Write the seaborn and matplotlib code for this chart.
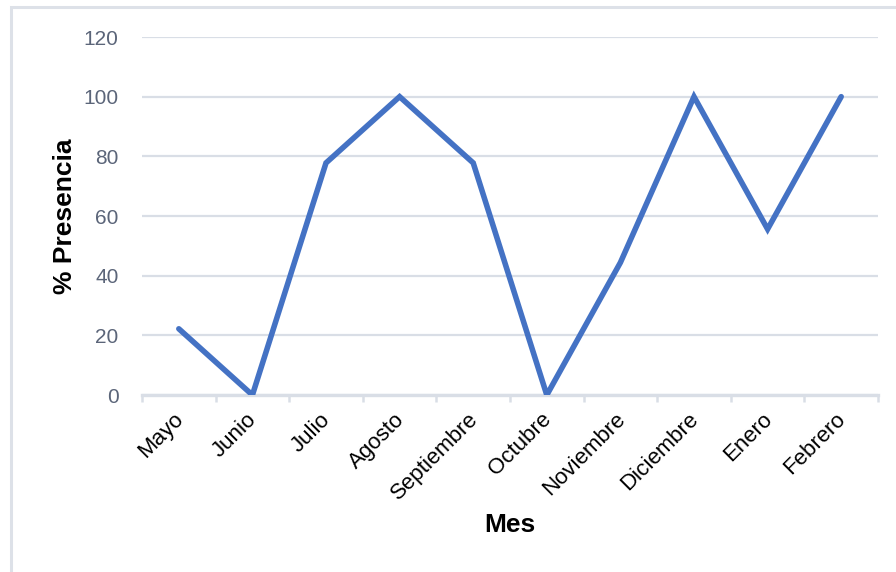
import matplotlib
matplotlib.use("Agg")
import matplotlib.pyplot as plt
from matplotlib.patches import Rectangle
from matplotlib.ticker import FixedLocator
from matplotlib.transforms import ScaledTranslation
import numpy as np
import pandas as pd
import seaborn as sns

# Monthly presence percentages
meses = ["Mayo", "Junio", "Julio", "Agosto", "Septiembre",
         "Octubre", "Noviembre", "Diciembre", "Enero", "Febrero"]
presencia = [22.2, 0.0, 77.8, 100.0, 77.8, 0.0, 44.4, 100.0, 55.6, 100.0]
y_ticks = [0, 20, 40, 60, 80, 100, 120]

sns.set_theme(style="white")
plt.rcParams["font.family"] = ["Liberation Sans", "DejaVu Sans"]

grid_color = "#d9dee6"
line_color = "#4472c4"

df = pd.DataFrame({"Mes": meses, "Presencia": presencia})

fig = plt.figure(figsize=(8.96, 5.72), dpi=100)
ax = fig.add_axes([0.1585, 0.3094, 0.8214, 0.6259])

sns.lineplot(data=df, x="Mes", y="Presencia", sort=False, ax=ax,
             color=line_color, linewidth=4.0, solid_capstyle="round",
             solid_joinstyle="miter", zorder=3)

ax.set_xlim(-0.5, len(meses) - 0.5)
ax.set_ylim(0, 120)
ax.set_yticks(y_ticks)
ax.yaxis.grid(True, color=grid_color, linewidth=1.6)
ax.set_axisbelow(True)

for side in ["left", "right", "top"]:
    ax.spines[side].set_visible(False)
ax.spines["bottom"].set_color(grid_color)
ax.spines["bottom"].set_linewidth(2.4)

# category boundary tick marks
ax.xaxis.set_minor_locator(FixedLocator(np.arange(-0.5, len(meses), 1.0)))
ax.tick_params(axis="x", which="minor", length=5, width=1.8,
               color=grid_color, direction="out", bottom=True)
ax.tick_params(axis="x", which="major", length=0, pad=10)
ax.tick_params(axis="y", length=0, pad=17, labelsize=15,
               labelcolor="#5b6579")

ax.set_xticks(range(len(meses)))
ax.set_xticklabels(meses, rotation=45, ha="right", rotation_mode="anchor",
                   fontsize=16, color="black")
shift = ScaledTranslation(-6 / 100, 0, fig.dpi_scale_trans)
for lbl in ax.get_xticklabels():
    lbl.set_transform(lbl.get_transform() + shift)

ax.set_xlabel("Mes", fontsize=19, fontweight="bold", color="black")
ax.set_ylabel("% Presencia", fontsize=19, fontweight="bold", color="black")
ax.xaxis.set_label_coords(0.5, -0.33)
ax.yaxis.set_label_coords(-0.089, 0.5)

# chart frame
fig.patches.append(Rectangle((11 / 896, -0.2), 1.2, 1.2 - 7 / 572,
                             transform=fig.transFigure, fill=False,
                             edgecolor="#dde1e8", linewidth=2.2, zorder=0))

fig.savefig("out.png", dpi=100, facecolor="white")
